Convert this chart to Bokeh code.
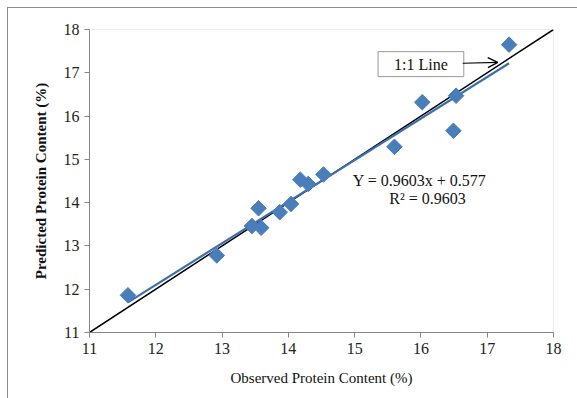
from bokeh.plotting import figure
from bokeh.models import Label, Arrow, OpenHead, FixedTicker, ColumnDataSource
from bokeh.embed import file_html
from bokeh.resources import INLINE

observed = [11.58, 12.92, 13.45, 13.55, 13.59, 13.87, 14.04, 14.18, 14.30, 14.53, 15.60, 16.02, 16.49, 16.53, 17.33]
predicted = [11.86, 12.78, 13.46, 13.87, 13.42, 13.78, 13.97, 14.53, 14.43, 14.65, 15.29, 16.32, 15.66, 16.47, 17.65]
slope = 0.9603
intercept = 0.577
ticks = [11, 12, 13, 14, 15, 16, 17, 18]
eq_text = "Y = 0.9603x + 0.577"
r2_text = "R\u00b2 = 0.9603"
line_label = "1:1 Line"

FONT = "Liberation Serif"
AX = "#868686"

p = figure(width=570, height=391, x_range=(11, 18), y_range=(11, 18),
           output_backend="svg", toolbar_location=None,
           min_border_left=81, min_border_right=25, min_border_top=21, min_border_bottom=67)
p.styles = {"border-left": "1px solid #8c8c8c", "border-top": "1px solid #8c8c8c",
            "margin-left": "7px", "margin-top": "7px"}
p.outline_line_color = "#ececec"
p.grid.visible = False
p.background_fill_color = "white"
p.border_fill_color = "white"

for ax in (p.xaxis, p.yaxis):
    ax.ticker = FixedTicker(ticks=ticks)
    ax.minor_tick_line_color = None
    ax.axis_line_color = AX
    ax.major_tick_line_color = AX
    ax.major_tick_out = 5
    ax.major_tick_in = 0
    ax.major_label_text_font = FONT
    ax.major_label_text_font_size = "16px"
    ax.major_label_text_color = "#222222"
    ax.axis_label_text_font = FONT
    ax.axis_label_text_font_size = "15px"
    ax.axis_label_text_color = "#111111"

p.xaxis.axis_label = "Observed Protein Content (%)"
p.xaxis.axis_label_text_font_style = "normal"
p.yaxis.axis_label = "Predicted Protein Content (%)"
p.yaxis.axis_label_text_font_style = "bold"
p.yaxis.axis_label_standoff = 12
p.xaxis.axis_label_standoff = 13

# 1:1 line
p.line(x=[ticks[0], ticks[-1]], y=[ticks[0], ticks[-1]], line_color="black", line_width=1.5)

# regression line
xmin, xmax = min(observed), max(observed)
p.line(x=[xmin, xmax], y=[slope * xmin + intercept, slope * xmax + intercept],
       line_color="#3d6fa8", line_width=2.2)

src = ColumnDataSource(dict(x=observed, y=predicted))
p.scatter("x", "y", source=src, marker="square", angle=0.785398, size=11,
          fill_color="#4a7ebb", line_color="#4a7ebb")

p.add_layout(Label(x=15.98, y=14.51, text=eq_text, text_align="center", text_baseline="middle",
                   text_font=FONT, text_font_size="16px", text_color="#111111"))
p.add_layout(Label(x=16.1, y=14.09, text=r2_text, text_align="center", text_baseline="middle",
                   text_font=FONT, text_font_size="16px", text_color="#111111"))

p.add_layout(Label(x=16.0, y=17.2, text=line_label, text_align="center", text_baseline="middle",
                   text_font=FONT, text_font_size="16px", text_color="#111111",
                   background_fill_color="white", border_line_color="#999999",
                   padding=(16, 4)))
p.add_layout(Arrow(end=OpenHead(size=10, line_color="black", line_width=1.2),
                   x_start=16.63, y_start=17.22, x_end=17.16, y_end=17.24,
                   line_color="black", line_width=1.2))

open("out.html", "w").write(file_html(p, INLINE))
